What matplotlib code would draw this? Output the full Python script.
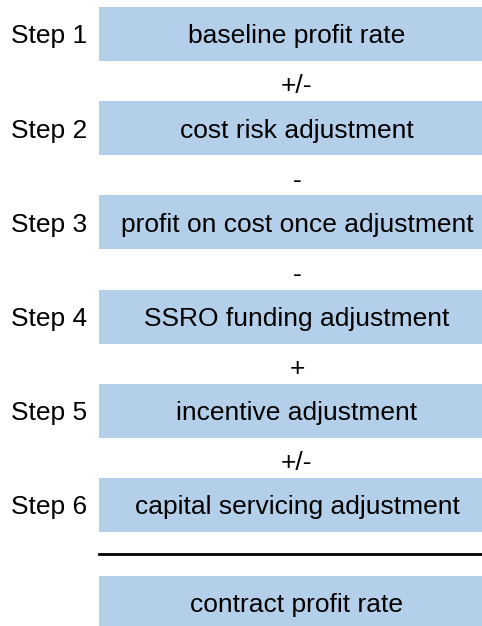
import matplotlib.pyplot as plt

step_labels = ["Step 1", "Step 2", "Step 3", "Step 4", "Step 5", "Step 6"]
step_names = ["baseline profit rate", "cost risk adjustment",
              "profit on cost once adjustment", "SSRO funding adjustment",
              "incentive adjustment", "capital servicing adjustment"]
operators = ["+/-", "-", "-", "+", "+/-"]
result_name = "contract profit rate"

plt.rcParams['font.family'] = ['Liberation Sans', 'DejaVu Sans']

fig = plt.figure(figsize=(4.82, 6.26), dpi=100)
ax = fig.add_axes([0, 0, 1, 1])

box_color = '#b4cfe9'
box_left, box_width, box_h = 99, 396, 0.573
text_x = box_left + box_width / 2
fs = 19
base_off = 0.10  # baseline offset so caps sit centred in the box

ypos = list(range(len(step_names)))
ax.barh(ypos, [box_width] * len(ypos), left=box_left, height=box_h, color=box_color)
for y, lab, name in zip(ypos, step_labels, step_names):
    ax.text(text_x, y + base_off, name, ha='center', va='baseline', fontsize=fs)
    ax.text(49, y + base_off, lab, ha='center', va='baseline', fontsize=fs)

for i, op in enumerate(operators):
    ax.text(text_x, i + 0.63, op, ha='center', va='baseline', fontsize=fs)

# separator and final result
ax.plot([box_left, 482], [5.52, 5.52], color='black', lw=2)
res_y = 6.04
ax.barh([res_y], [box_width], left=box_left, height=box_h, color=box_color)
ax.text(text_x, res_y + base_off, result_name, ha='center', va='baseline', fontsize=fs)

ax.set_xlim(0, 482)
ax.set_ylim(6.285, -0.361)
ax.axis('off')

fig.savefig('out.png', dpi=100)
